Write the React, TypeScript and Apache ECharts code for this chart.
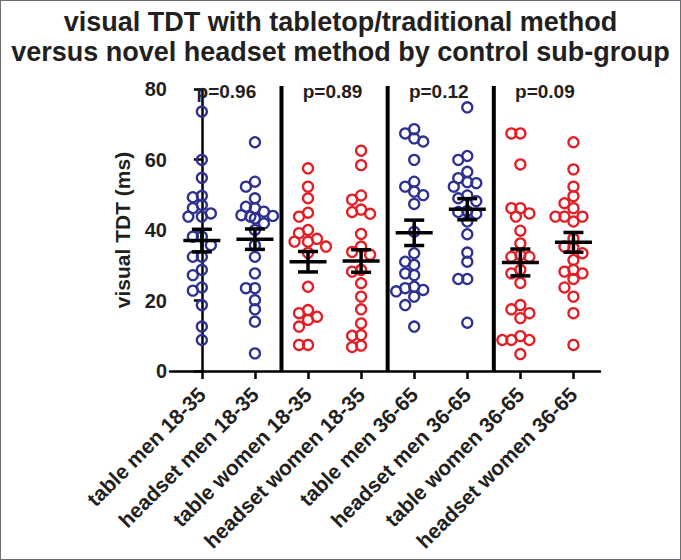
import React, { useEffect, useRef } from "react";
import * as echarts from "echarts";

const categories = [
  "table men 18-35",
  "headset men 18-35",
  "table women 18-35",
  "headset women 18-35",
  "table men 36-65",
  "headset men 36-65",
  "table women 36-65",
  "headset women 36-65",
];

const tableMen1835 = [73.6, 59.9, 54.8, 49.7, 49.3, 47.1, 46.2, 44.7, 43.8, 43.8, 38.1, 38.1, 35.7, 32.4, 32.4, 28.7, 27.2, 23.7, 22.8, 18.7, 12.6, 8.8];
const headsetMen1835 = [64.9, 53.7, 52.3, 49.0, 46.6, 46.2, 45.2, 44.2, 44.0, 43.8, 43.3, 41.9, 40.0, 35.7, 32.4, 27.7, 23.5, 23.5, 20.1, 17.5, 14.0, 5.0];
const tableWomen1835 = [57.5, 52.3, 49.0, 44.9, 43.8, 40.0, 39.1, 37.5, 36.7, 36.7, 35.3, 33.5, 23.9, 17.3, 16.4, 15.4, 14.5, 12.6, 7.4, 7.4];
const headsetWomen1835 = [62.5, 58.4, 49.8, 48.6, 45.8, 45.1, 44.6, 38.9, 35.3, 33.8, 33.0, 28.7, 28.2, 24.9, 21.1, 17.5, 13.5, 10.2, 10.0, 7.2, 6.8];
const tableMen3665 = [68.6, 67.4, 66.0, 65.1, 59.9, 53.7, 52.3, 50.9, 49.9, 47.4, 39.5, 33.4, 31.0, 30.1, 27.7, 27.2, 23.9, 23.5, 23.0, 22.6, 21.1, 18.7, 12.6];
const headsetMen3665 = [74.8, 61.0, 59.9, 56.5, 54.7, 53.6, 53.3, 52.3, 49.8, 49.0, 48.2, 45.4, 45.1, 44.6, 42.4, 38.8, 33.6, 31.0, 26.1, 26.1, 13.7];
const tableWomen3665 = [67.4, 67.4, 58.6, 46.2, 46.2, 44.7, 43.8, 39.8, 36.2, 32.9, 32.4, 32.4, 28.7, 27.7, 25.0, 18.7, 17.5, 16.4, 15.0, 9.9, 8.8, 8.8, 8.8, 4.8];
const headsetWomen3665 = [64.9, 57.2, 52.3, 49.6, 47.6, 46.2, 43.8, 43.8, 43.8, 42.4, 37.6, 35.3, 35.0, 33.4, 31.5, 28.7, 28.2, 27.7, 26.1, 23.7, 21.1, 16.4, 7.4];

const meanValues = [37.0, 37.4, 31.0, 31.2, 39.2, 45.9, 30.8, 36.5];
const semValues = [3.2, 2.9, 2.9, 3.2, 3.6, 3.0, 3.8, 2.8];

const pLabels = ["p=0.96", "p=0.89", "p=0.12", "p=0.09"];
const yTicks = [0, 20, 40, 60, 80];

const groups = [
  tableMen1835,
  headsetMen1835,
  tableWomen1835,
  headsetWomen1835,
  tableMen3665,
  headsetMen3665,
  tableWomen3665,
  headsetWomen3665,
];

const BLUE = "#2e3192";
const RED = "#e31e24";
const INK = "#231f20";
const FONT = '"Liberation Sans", Arial, sans-serif';

// chart geometry used for the beeswarm layout
const GRID_LEFT = 170;
const GRID_RIGHT_EDGE = 600;
const GRID_TOP = 89;
const GRID_BOTTOM_EDGE = 371;
const X_MIN = -0.6;
const X_MAX = 7.5;
const PX_PER_X = (GRID_RIGHT_EDGE - GRID_LEFT) / (X_MAX - X_MIN);
const PX_PER_Y = (GRID_BOTTOM_EDGE - GRID_TOP) / 80;

function beeswarm(values: number[], center: number): number[][] {
  const sorted = [...values].sort((a, b) => b - a);
  const placed: { dx: number; py: number }[] = [];
  const candidates = [0, -9, 9, -4.5, 4.5, -13.5, 13.5, -18, 18];
  const out: number[][] = [];
  for (const v of sorted) {
    const py = v * PX_PER_Y;
    let chosen = 0;
    for (const c of candidates) {
      const ok = placed.every((p) => Math.hypot(p.dx - c, p.py - py) >= 9);
      if (ok) {
        chosen = c;
        break;
      }
    }
    placed.push({ dx: chosen, py });
    out.push([center + chosen / PX_PER_X, v]);
  }
  return out;
}

export default function App() {
  const ref = useRef<HTMLDivElement>(null);

  useEffect(() => {
    if (!ref.current) return;
    const chart = echarts.init(ref.current, undefined, { renderer: "svg" });

    const scatterSeries = groups.map((vals, i) => {
      const isMen = categories[i].includes(" men ");
      return {
        type: "scatter",
        name: categories[i],
        xAxisIndex: 0,
        yAxisIndex: 0,
        symbol: "circle",
        symbolSize: 10,
        itemStyle: {
          color: "rgba(0,0,0,0)",
          borderColor: isMen ? BLUE : RED,
          borderWidth: 2.3,
          opacity: 1,
        },
        emphasis: { disabled: true },
        data: beeswarm(vals, i),
        z: 2,
      };
    });

    const errorSeries = {
      type: "custom",
      xAxisIndex: 0,
      yAxisIndex: 0,
      z: 5,
      data: meanValues.map((m, i) => [i, m, semValues[i]]),
      encode: { x: 0, y: 1 },
      renderItem: (params: any, api: any) => {
        const i = api.value(0);
        const m = api.value(1);
        const s = api.value(2);
        const c = api.coord([i, m]);
        const top = api.coord([i, m + s]);
        const bot = api.coord([i, m - s]);
        const st = { stroke: "#000", lineWidth: 3.5 };
        return {
          type: "group",
          children: [
            { type: "line", shape: { x1: c[0] - 18.5, y1: c[1], x2: c[0] + 18.5, y2: c[1] }, style: st },
            { type: "line", shape: { x1: c[0], y1: top[1], x2: c[0], y2: bot[1] }, style: st },
            { type: "line", shape: { x1: c[0] - 10, y1: top[1], x2: c[0] + 10, y2: top[1] }, style: st },
            { type: "line", shape: { x1: c[0] - 10, y1: bot[1], x2: c[0] + 10, y2: bot[1] }, style: st },
          ],
        };
      },
    };

    const separatorSeries = {
      type: "custom",
      xAxisIndex: 0,
      yAxisIndex: 0,
      z: 4,
      data: [1, 3, 5].map((k) => [k + 0.5]),
      encode: { x: 0 },
      renderItem: (params: any, api: any) => {
        const x = api.value(0);
        const p1 = api.coord([x, 80]);
        const p2 = api.coord([x, 0]);
        return {
          type: "line",
          shape: { x1: p1[0], y1: p1[1] - 3, x2: p2[0], y2: p2[1] },
          style: { stroke: "#000", lineWidth: 4 },
        };
      },
    };

    const pSeries = {
      type: "custom",
      xAxisIndex: 0,
      yAxisIndex: 0,
      z: 6,
      data: pLabels.map((t, g) => [2 * g + 0.5, 80, t]),
      encode: { x: 0, y: 1 },
      renderItem: (params: any, api: any) => {
        const x = api.value(0);
        const y = api.value(1);
        const c = api.coord([x, y]);
        return {
          type: "text",
          x: c[0] - 2,
          y: c[1] + 2,
          style: {
            text: pLabels[params.dataIndex],
            align: "center",
            verticalAlign: "middle",
            textAlign: "center",
            textVerticalAlign: "middle",
            font: `bold 19px ${FONT}`,
            fill: INK,
          },
        };
      },
    };

    chart.setOption({
      animation: false,
      backgroundColor: "#ffffff",
      title: {
        text: "visual TDT with tabletop/traditional method\nversus novel headset method by control sub-group",
        left: "center",
        top: 2,
        textStyle: {
          fontFamily: FONT,
          fontWeight: "bold",
          fontSize: 27,
          lineHeight: 30,
          color: INK,
        },
      },
      grid: {
        left: GRID_LEFT,
        right: 681 - GRID_RIGHT_EDGE,
        top: GRID_TOP,
        bottom: 560 - GRID_BOTTOM_EDGE,
        containLabel: false,
      },
      xAxis: {
        type: "value",
        min: X_MIN,
        max: X_MAX,
        splitLine: { show: false },
        axisLine: { show: true, onZero: false, lineStyle: { color: "#000", width: 2.5 } },
        axisTick: {
          show: true,
          customValues: categories.map((_, i) => i),
          length: 8,
          lineStyle: { color: "#000", width: 2.5 },
        },
        axisLabel: {
          customValues: categories.map((_, i) => i),
          formatter: (v: number) => categories[Math.round(v)] ?? "",
          rotate: 45,
          margin: 20,
          fontFamily: FONT,
          fontWeight: "bold",
          fontSize: 21,
          color: INK,
        },
      },
      yAxis: {
        type: "value",
        min: yTicks[0],
        max: yTicks[yTicks.length - 1],
        interval: yTicks[1] - yTicks[0],
        name: "visual TDT (ms)",
        nameLocation: "middle",
        nameGap: 37,
        nameTextStyle: {
          fontFamily: FONT,
          fontWeight: "bold",
          fontSize: 21,
          color: INK,
        },
        splitLine: { show: false },
        axisLine: { show: true, lineStyle: { color: "#000", width: 2.5 } },
        axisTick: { show: true, length: 8, lineStyle: { color: "#000", width: 2.5 } },
        axisLabel: {
          margin: 3,
          fontFamily: FONT,
          fontWeight: "bold",
          fontSize: 20,
          color: INK,
        },
      },
      series: [...scatterSeries, separatorSeries, errorSeries, pSeries],
    });

    return () => chart.dispose();
  }, []);

  return (
    <div style={{ position: "fixed", left: 0, top: 0, width: 681, height: 560 }}>
      <div ref={ref} style={{ position: "absolute", left: 0, top: 0, width: 681, height: 560 }} />
      <div
        style={{
          position: "absolute",
          left: 0,
          top: 0,
          width: 681,
          height: 560,
          boxSizing: "border-box",
          border: "1px solid #6d6e71",
          pointerEvents: "none",
        }}
      />
    </div>
  );
}
